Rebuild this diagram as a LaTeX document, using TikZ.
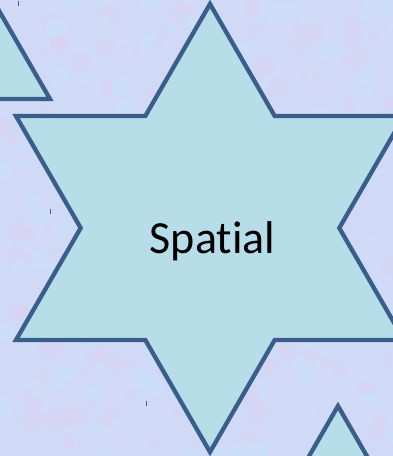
\documentclass[tikz,border=0pt]{standalone}
\usepackage{fontspec}
\setmainfont[Ligatures={NoCommon}]{Carlito}
\definecolor{bgc}{RGB}{208,218,246}
\definecolor{bgpink}{RGB}{228,204,240}
\definecolor{bgcyan}{RGB}{198,230,250}
\definecolor{starfill}{RGB}{183,221,232}
\definecolor{starline}{RGB}{58,94,140}
\tikzset{
  shapeline/.style={draw=starline, line width=4.3pt, fill=starfill, line join=miter},
  tick/.style={draw=starline, line width=1pt}
}
\begin{document}
\begin{tikzpicture}[x=1pt,y=-1pt]
\useasboundingbox (0,0) rectangle (393,456);
\clip (0,0) rectangle (393,456);
\fill[bgc] (0,0) rectangle (393,456);
\pgfmathsetseed{7}
\foreach \i in {1,...,160}{
  \pgfmathsetmacro{\px}{rnd*393}
  \pgfmathsetmacro{\py}{rnd*456}
  \pgfmathsetmacro{\pr}{3+rnd*8}
  \fill[bgpink, opacity=0.25] (\px,\py) circle (\pr);
}
\foreach \i in {1,...,160}{
  \pgfmathsetmacro{\px}{rnd*393}
  \pgfmathsetmacro{\py}{rnd*456}
  \pgfmathsetmacro{\pr}{3+rnd*8}
  \fill[bgcyan, opacity=0.3] (\px,\py) circle (\pr);
}
% top-left partial triangle
\path[shapeline] (50,99) -- (-10,-4.9) -- (-70,99) -- cycle;
% bottom-right partial triangle
\path[shapeline] (338,406) -- (400,513.4) -- (276,513.4) -- cycle;
% six-pointed star
\coordinate (c) at (210,228);
\path[shapeline]
  (210,4) -- (274.7,116) -- (404,116) -- (339.3,228) -- (404,340) -- (274.7,340)
  -- (210,452) -- (145.3,340) -- (16,340) -- (80.7,228) -- (16,116) -- (145.3,116) -- cycle;
\node[font=\fontsize{46}{50}\selectfont, anchor=base, inner sep=0pt] (lbl) at (212.5,253) {Spatial};
% small marks
\draw[tick] (18,1) -- (18,6);
\draw[tick] (50,209) -- (50,214);
\draw[tick] (146,401) -- (146,406);
\end{tikzpicture}
\end{document}
